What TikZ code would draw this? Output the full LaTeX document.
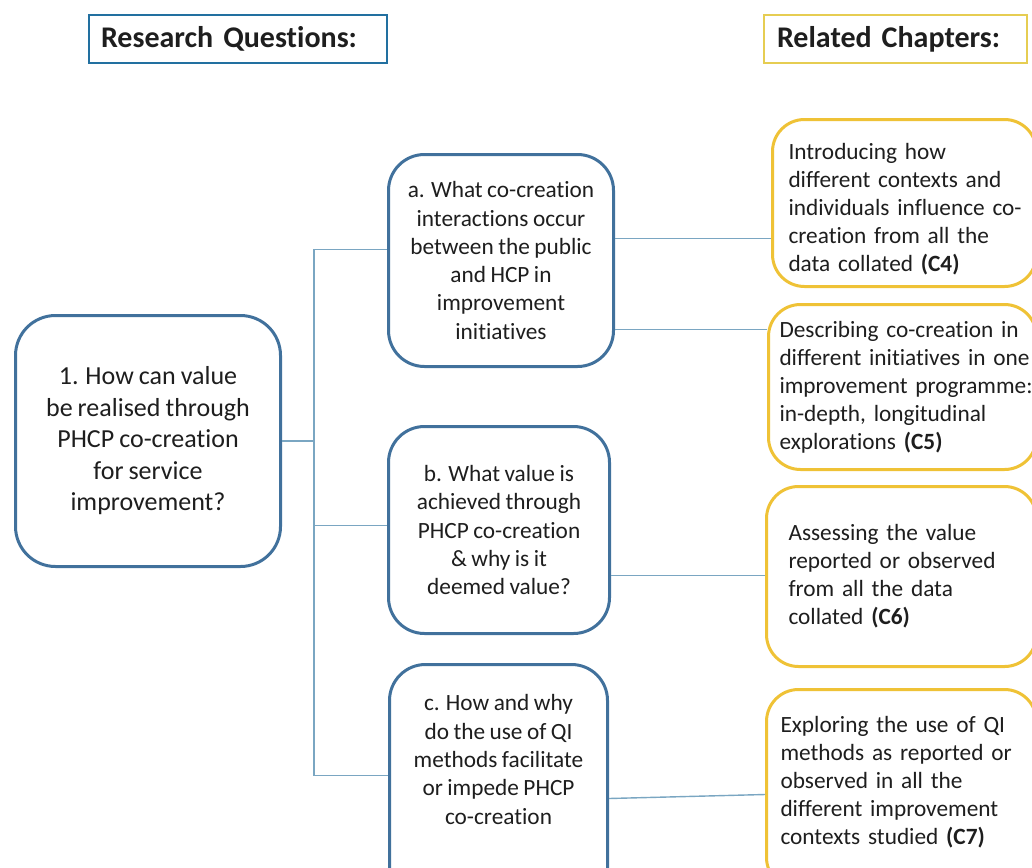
\documentclass[tikz,border=0pt]{standalone}
\usepackage{fontspec}
\setmainfont{Carlito}[Ligatures=NoCommon, WordSpace=0.85]
\usetikzlibrary{calc}

\definecolor{qblue}{HTML}{41719C}
\definecolor{linkblue}{HTML}{7AA6C2}
\definecolor{hblue}{HTML}{2270A0}
\definecolor{gold}{HTML}{EFC236}
\definecolor{hgold}{HTML}{E6CD52}
\definecolor{ink}{HTML}{1E1E1E}

\begin{document}
\begin{tikzpicture}[x=1pt,y=-1pt,
  header/.style={line width=2pt, align=left, anchor=north west, inner ysep=0pt,
    minimum height=48pt, text=ink, font=\bfseries\fontsize{30}{36}\selectfont},
  qbox/.style={draw=qblue, line width=3pt, fill=white, align=center, anchor=north west,
    inner sep=0pt, text=ink},
  qsmall/.style={qbox, rounded corners=36pt, font=\fontsize{23.3}{28.3}\selectfont},
  chbox/.style={draw=gold, line width=3pt, fill=white, align=left, anchor=north west,
    inner ysep=0pt, rounded corners=32pt, text=ink, font=\fontsize{23.3}{28}\selectfont},
  link/.style={draw=linkblue, line width=1.4pt}]

\path[use as bounding box] (0,0) rectangle (1032,867);
\clip (0,0) rectangle (1032,867);

% column headers
\node[header, draw=hblue, text width=274pt, inner xsep=12pt] (rq) at (88,14) {Research Questions:};
\node[header, draw=hgold, text width=237pt, inner xsep=13pt] (rc) at (763,14) {Related Chapters:};

% main research question
\node[qbox, rounded corners=40pt, minimum width=265pt, minimum height=251pt,
  font=\fontsize{26}{31.5}\selectfont] (main) at (14,314)
  {1. How can value\\be realised through\\PHCP co-creation\\for service\\improvement?};

% sub-questions
\node[qsmall, minimum width=225pt, minimum height=212pt] (qa) at (387,153)
  {a. What co-creation\\interactions occur\\between the public\\and HCP in\\improvement\\initiatives};
\node[qsmall, minimum width=221pt, minimum height=207pt] (qb) at (387,425)
  {b. What value is\\achieved through\\PHCP co-creation\\\& why is it\\deemed value?};
\node[qsmall, minimum width=218pt, minimum height=242pt] (qc) at (388,663)
  {c. How and why\\do the use of QI\\methods facilitate\\or impede PHCP\\co-creation\\[24pt]\mbox{}};

% related chapters
\node[chbox, text width=232pt, inner xsep=16pt, minimum height=167pt] (c4) at (771,118)
  {\rule{0pt}{28pt}\mbox{Introducing how}\\\mbox{different contexts and}\\\mbox{individuals influence co-}\\\mbox{creation from all the}\\\mbox{data collated \textbf{(C4)}}};
\node[chbox, text width=246pt, inner xsep=11pt, minimum height=165pt] (c5) at (767,303)
  {\mbox{Describing co-creation in}\\\mbox{different initiatives in one}\\\mbox{improvement programme:}\\\mbox{in-depth, longitudinal}\\\mbox{explorations \textbf{(C5)}}};
\node[chbox, text width=226pt, inner xsep=22pt, minimum height=180pt] (c6) at (765,485)
  {\mbox{Assessing the value}\\\mbox{reported or observed}\\\mbox{from all the data}\\\mbox{collated \textbf{(C6)}}};
\node[chbox, text width=242pt, inner xsep=14pt, minimum height=200pt] (c7) at (765,688)
  {\mbox{Exploring the use of QI}\\\mbox{methods as reported or}\\\mbox{observed in all the}\\\mbox{different improvement}\\\mbox{contexts studied \textbf{(C7)}}\\[-10pt]\mbox{}};

% tree connectors
\coordinate (jn) at ($(main.east)+(32,0)$);
\draw[link] (main.east) -- (jn);
\draw[link] ([yshift=10pt]qc.west) coordinate (pc) -- (pc -| jn) |- ([yshift=11pt]qa.west);
\draw[link] ([yshift=4.5pt]qb.west) coordinate (pb) -- (pb -| jn);

% question to chapter connectors
\draw[link] ([yshift=22pt]qa.east) coordinate (p4) -- (p4 -| c4.west);
\draw[link] ([yshift=-69pt]qa.east) coordinate (p5) -- (p5 -| c5.west);
\draw[link] ([yshift=-45.5pt]qb.east) coordinate (p6) -- (p6 -| c6.west);
\draw[link] ([yshift=-13pt]qc.east) -- ([yshift=-5pt]c7.west);

\end{tikzpicture}
\end{document}
